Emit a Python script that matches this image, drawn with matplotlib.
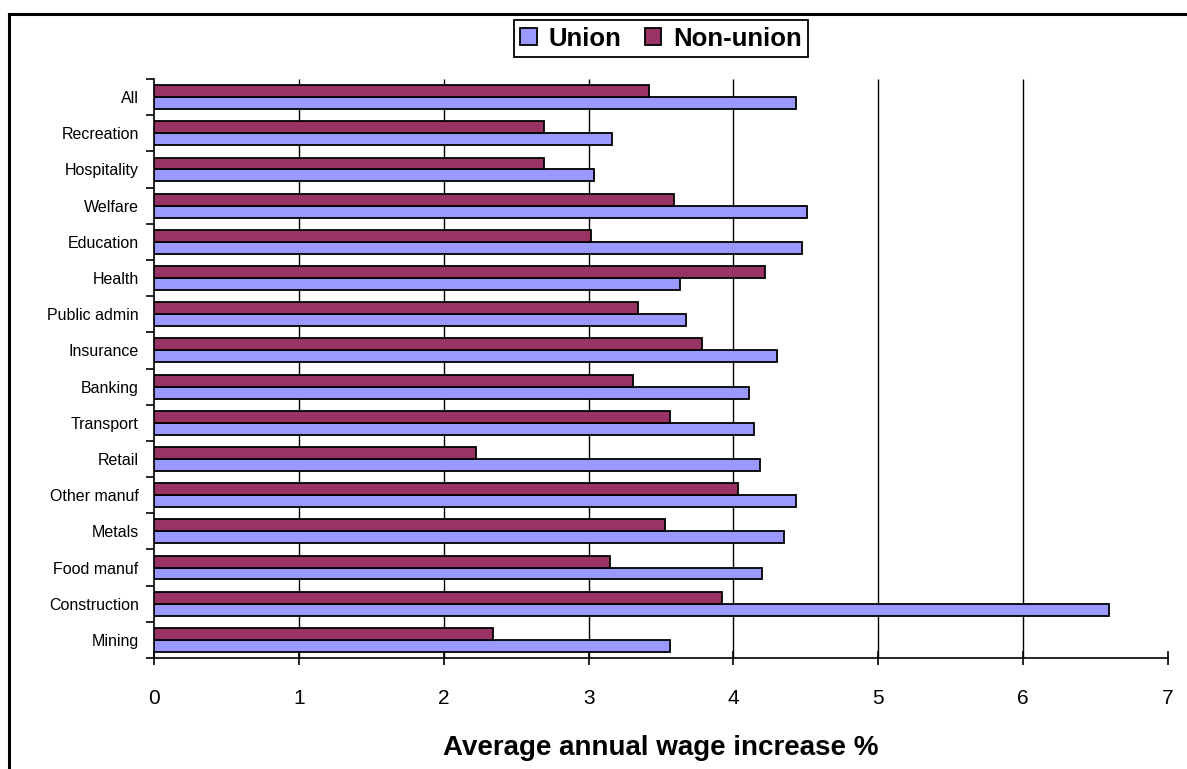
import numpy as np
import matplotlib.pyplot as plt
from matplotlib.lines import Line2D

plt.rcParams['font.family'] = ['Liberation Sans', 'DejaVu Sans']

sectors = ["Mining", "Construction", "Food manuf", "Metals", "Other manuf", "Retail",
           "Transport", "Banking", "Insurance", "Public admin", "Health", "Education",
           "Welfare", "Hospitality", "Recreation", "All"]
union = [3.56, 6.59, 4.20, 4.35, 4.43, 4.18, 4.14, 4.11, 4.30, 3.67, 3.63, 4.47,
         4.51, 3.04, 3.16, 4.43]
non_union = [2.34, 3.92, 3.15, 3.53, 4.03, 2.22, 3.56, 3.31, 3.78, 3.34, 4.22, 3.02,
             3.59, 2.69, 2.69, 3.42]

UNION_COLOR = "#9999FF"
NONUNION_COLOR = "#993366"

fig = plt.figure(figsize=(11.87, 7.69), dpi=100)
ax = fig.add_axes([154 / 1187, 1 - 658 / 769, 1014 / 1187, 579 / 769])

y = np.arange(len(sectors))
h = 0.33
ax.barh(y - h / 2, union, height=h, color=UNION_COLOR, edgecolor="black",
        linewidth=1.3, label="Union", zorder=3)
ax.barh(y + h / 2, non_union, height=h, color=NONUNION_COLOR, edgecolor="black",
        linewidth=1.3, label="Non-union", zorder=3)

ax.set_xlim(0, 7)
ax.set_ylim(-0.5, len(sectors) - 0.5)
ax.set_xticks(range(8))
ax.tick_params(axis="x", direction="inout", length=10, width=1.2, labelsize=15, pad=17)
# vertical gridlines at the inner integer ticks
ax.vlines(range(1, 7), -0.5, len(sectors) - 0.5, color="black", linewidth=1.0, zorder=0)

# category names sit between the boundary ticks
ax.set_yticks(np.arange(-0.5, len(sectors), 1))
ax.set_yticklabels([])
ax.set_yticks(y, minor=True)
ax.set_yticklabels(sectors, minor=True, fontsize=11.5)
ax.tick_params(axis="y", which="major", direction="out", length=6, width=1.2)
ax.tick_params(axis="y", which="minor", length=0, pad=11)

for side in ("top", "right"):
    ax.spines[side].set_visible(False)
for side in ("left", "bottom"):
    ax.spines[side].set_linewidth(1.2)

ax.set_xlabel("Average annual wage increase %", fontsize=20, fontweight="bold", labelpad=20)

handles, labels = ax.get_legend_handles_labels()
leg = fig.legend(handles, labels, loc="center", bbox_to_anchor=(661 / 1187, 1 - 38.5 / 769),
                 ncol=2, fancybox=False, edgecolor="black", framealpha=1,
                 prop={"weight": "bold", "size": 18.5}, handlelength=0.65, handleheight=0.65,
                 handletextpad=0.45, columnspacing=0.9, borderpad=0.25, borderaxespad=0)
leg.get_frame().set_linewidth(1.3)

# outer chart frame (top and left edges only)
fig.add_artist(Line2D([9 / 1187, 9 / 1187], [0, 1 - 14 / 769], color="black", linewidth=2.2))
fig.add_artist(Line2D([9 / 1187, 1], [1 - 14 / 769, 1 - 14 / 769], color="black", linewidth=2.2))

fig.savefig("out.png", dpi=100)
